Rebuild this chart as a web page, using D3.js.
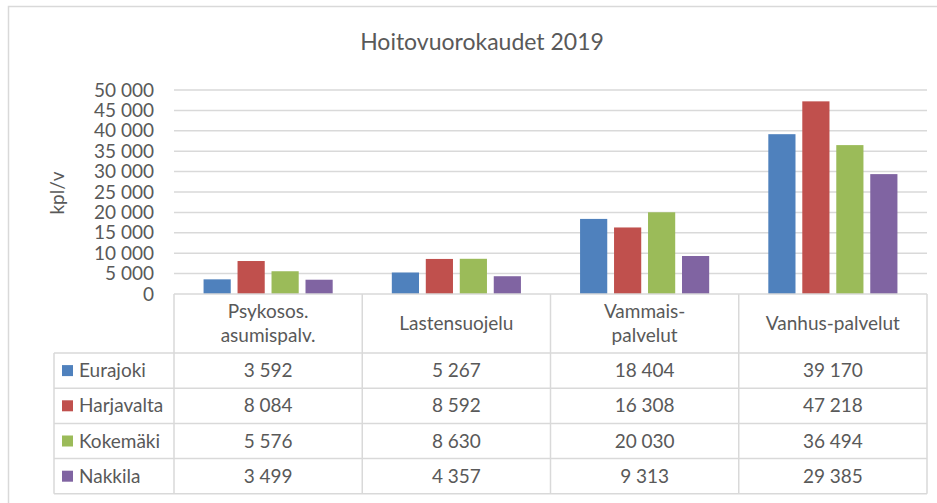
<!DOCTYPE html>
<html>
<head>
<meta charset="utf-8">
<script src="https://cdn.jsdelivr.net/npm/d3@7"></script>
<style>
  html, body { margin: 0; padding: 0; background: #fff; }
  svg { display: block; }
  text { font-family: Lato, "Liberation Sans", sans-serif; fill: #595959; }
</style>
</head>
<body>
<div id="chart"></div>
<script>
// chart data
const categories = [["Psykosos.", "asumispalv."], ["Lastensuojelu"], ["Vammais-", "palvelut"], ["Vanhus-palvelut"]];
const series = ["Eurajoki", "Harjavalta", "Kokemäki", "Nakkila"];
const colors = ["#4F81BD", "#C0504D", "#9BBB59", "#8064A2"];
const eurajoki = [3592, 5267, 18404, 39170];
const harjavalta = [8084, 8592, 16308, 47218];
const kokemaki = [5576, 8630, 20030, 36494];
const nakkila = [3499, 4357, 9313, 29385];
const yTicks = [0, 5000, 10000, 15000, 20000, 25000, 30000, 35000, 40000, 45000, 50000];

const values = [eurajoki, harjavalta, kokemaki, nakkila];

const width = 937, height = 503;
const plot = { left: 174, right: 927, top: 90, bottom: 294 };
const legendLeft = 54;
const headerBottom = 353;
const rowH = 35.2;
const gridColor = "#d9d9d9";

const fmt = d3.formatLocale({ decimal: ",", thousands: "\u00a0", grouping: [3], currency: ["", ""] }).format(",d");

const svg = d3.select("#chart").append("svg")
    .attr("width", width)
    .attr("height", height);

// outer chart border (right / bottom edges fall outside the picture)
svg.append("rect")
    .attr("x", 8.5).attr("y", 6.5)
    .attr("width", 1000).attr("height", 1000)
    .attr("fill", "none")
    .attr("stroke", gridColor)
    .attr("stroke-width", 1.5);

const x0 = d3.scaleBand()
    .domain(d3.range(categories.length))
    .range([plot.left, plot.right]);

const x1 = d3.scaleBand()
    .domain(d3.range(series.length))
    .range([0, x0.bandwidth()])
    .paddingInner(0.2)
    .paddingOuter(0.87);

const y = d3.scaleLinear()
    .domain([0, 50000])
    .range([plot.bottom, plot.top]);

// title
svg.append("text")
    .attr("x", 482)
    .attr("y", 50)
    .attr("text-anchor", "middle")
    .style("font-size", "23px")
    .text("Hoitovuorokaudet 2019");

// y axis label
svg.append("text")
    .attr("transform", "translate(64,193) rotate(-90)")
    .attr("text-anchor", "middle")
    .style("font-size", "19px")
    .text("kpl/v");

// gridlines
svg.append("g")
    .selectAll("line")
    .data(yTicks.filter(d => d > 0))
    .join("line")
    .attr("x1", plot.left).attr("x2", plot.right)
    .attr("y1", d => y(d)).attr("y2", d => y(d))
    .attr("stroke", gridColor)
    .attr("stroke-width", 1.5);

// y axis tick labels
const yAxis = svg.append("g")
    .attr("transform", `translate(${plot.left},0)`)
    .call(d3.axisLeft(y).tickValues(yTicks).tickFormat(fmt).tickSize(0).tickPadding(20));
yAxis.select(".domain").remove();
yAxis.selectAll("text")
    .attr("fill", "#595959")
    .style("font-family", "Lato, 'Liberation Sans', sans-serif")
    .style("font-size", "19px");

// bars
const groups = svg.append("g")
    .selectAll("g")
    .data(categories.map((c, i) => i))
    .join("g")
    .attr("transform", i => `translate(${x0(i)},0)`);

groups.selectAll("rect")
    .data(i => values.map((v, s) => ({ s, v: v[i] })))
    .join("rect")
    .attr("x", d => x1(d.s))
    .attr("width", x1.bandwidth())
    .attr("y", d => y(d.v))
    .attr("height", d => y(0) - y(d.v))
    .attr("fill", d => colors[d.s]);

// data table
const table = svg.append("g");
const tableBottom = headerBottom + rowH * series.length;

// horizontal lines
table.append("line")
    .attr("x1", plot.left).attr("x2", plot.right)
    .attr("y1", plot.bottom).attr("y2", plot.bottom);
d3.range(series.length + 1).forEach(r => {
    table.append("line")
        .attr("x1", legendLeft).attr("x2", plot.right)
        .attr("y1", headerBottom + r * rowH).attr("y2", headerBottom + r * rowH);
});
// vertical lines
table.append("line")
    .attr("x1", legendLeft).attr("x2", legendLeft)
    .attr("y1", headerBottom).attr("y2", tableBottom);
d3.range(categories.length + 1).forEach(i => {
    const xx = i < categories.length ? x0(i) : plot.right;
    table.append("line")
        .attr("x1", xx).attr("x2", xx)
        .attr("y1", plot.bottom).attr("y2", tableBottom);
});
table.selectAll("line")
    .attr("stroke", gridColor)
    .attr("stroke-width", 1.5);

// header labels
const headerMid = (plot.bottom + headerBottom) / 2;
categories.forEach((lines, i) => {
    const t = table.append("text")
        .attr("x", x0(i) + x0.bandwidth() / 2)
        .attr("y", headerMid)
        .attr("text-anchor", "middle")
        .style("font-size", "19px");
    lines.forEach((ln, k) => {
        t.append("tspan")
            .attr("x", x0(i) + x0.bandwidth() / 2)
            .attr("dy", k === 0 ? `${(-(lines.length - 1) * 1.27) / 2 + 0.35}em` : "1.27em")
            .text(ln);
    });
});

// rows
series.forEach((name, s) => {
    const cy = headerBottom + rowH * s + rowH / 2;
    table.append("rect")
        .attr("x", 62).attr("y", cy - 5.5)
        .attr("width", 11).attr("height", 11)
        .attr("fill", colors[s]);
    table.append("text")
        .attr("x", 79).attr("y", cy)
        .attr("dy", "0.35em")
        .style("font-size", "19px")
        .text(name);
    values[s].forEach((v, i) => {
        table.append("text")
            .attr("x", x0(i) + x0.bandwidth() / 2)
            .attr("y", cy)
            .attr("dy", "0.35em")
            .attr("text-anchor", "middle")
            .style("font-size", "19px")
            .text(fmt(v));
    });
});
</script>
</body>
</html>
